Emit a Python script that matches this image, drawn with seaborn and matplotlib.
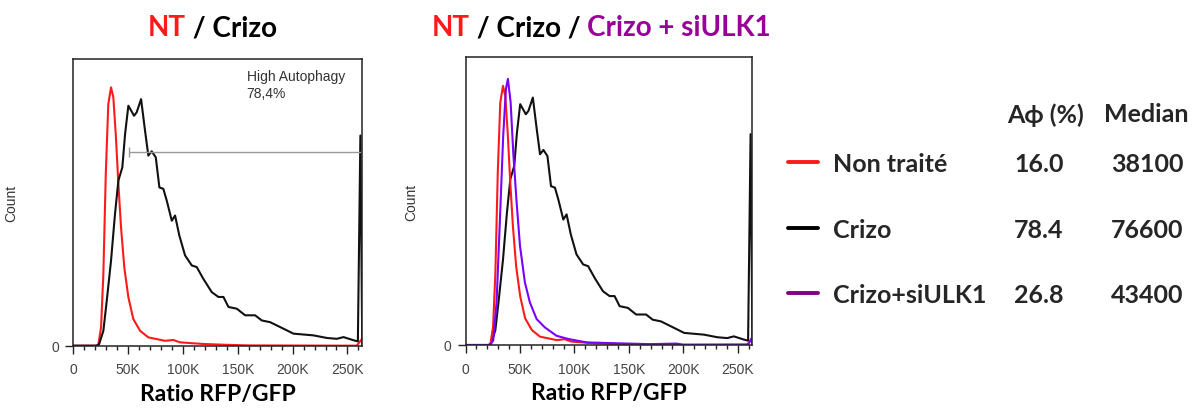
import matplotlib
matplotlib.use("Agg")
import matplotlib.pyplot as plt
import seaborn as sns
from matplotlib.lines import Line2D
from matplotlib.ticker import MultipleLocator

# Histogrammes (x = ratio RFP/GFP, y = % de la hauteur de l'axe)
nt_x = [0, 21000, 22800, 25300, 27400, 29600, 31900, 34400, 36500, 38700, 41100, 43500,
        46500, 50200, 54700, 60900, 68400, 76100, 83700, 91200, 97000, 103400, 118600,
        139900, 160000, 258500, 263300]
nt_y = [0, 0, 0.3, 6.4, 25, 59.9, 84.3, 90.1, 86.6, 73.8, 56.4, 41.3,
        27.3, 16.9, 9.3, 5.2, 2.9, 2.3, 1.7, 2.0, 1.2, 1.0, 0.6,
        0.3, 0.1, 0, 2.4]

crizo_x = [0, 21000, 23500, 27400, 30500, 34400, 38000, 41100, 44700, 47200, 50200, 55400,
           57800, 61800, 65400, 68400, 71500, 75200, 78500, 82100, 85200, 89800, 92800,
           96700, 101900, 108000, 112600, 118600, 126200, 132300, 136900, 141500, 149100,
           156700, 165800, 171900, 179500, 188600, 200800, 219000, 231200, 240300, 246400,
           255500, 259500, 261800, 263500]
crizo_y = [0, 0, 0.5, 5.2, 15.7, 29.7, 45.9, 57.6, 62.2, 73.8, 83.7, 80.2,
           81.4, 86, 75, 66.3, 67.8, 65.7, 55.2, 54.7, 50.6, 43.6, 45.4,
           38.4, 31.5, 28, 27.4, 23.3, 18.7, 17, 17, 13.5, 12.9,
           10.6, 10.6, 8.8, 8.2, 6.5, 4.2, 3.6, 2.7, 2.4, 3,
           1.9, 1.5, 73.3, 0]

siulk1_x = [0, 22000, 25400, 28500, 31600, 34600, 37100, 38900, 41400, 43800, 46900, 50000,
            54500, 59100, 65300, 72900, 83600, 94300, 111200, 138700, 169300, 193800,
            200000, 259600, 263300]
siulk1_y = [0, 0, 1.5, 14.8, 43.8, 72.8, 89, 92.5, 84.4, 67, 49.6, 34.5,
            21.8, 14.8, 9, 6.1, 3.2, 2.1, 0.9, 0.6, 0.3, 0.5,
            0.1, 0.2, 2.7]

# Porte "High Autophagy"
gate_start = 51100
gate_end = 262500
gate_level = 67.5

# Tableau à droite
conditions = ["Non traité", "Crizo", "Crizo+siULK1"]
aphi_pct = ["16.0", "78.4", "26.8"]
medians = ["38100", "76600", "43400"]

x_ticks = [0, 50000, 100000, 150000, 200000, 250000]
x_ticklabels = ["0", "50K", "100K", "150K", "200K", "250K"]

RED = "#ff1a1a"
BLACK = "#111111"
VIOLET = "#7a00ff"
PURPLE_TXT = "#990099"
PURPLE_LEG = "#800080"

sns.set_theme(style="ticks")
plt.rcParams["font.family"] = ["Liberation Sans", "DejaVu Sans"]
BOLD = ["Lato", "DejaVu Sans"]
TABLE_FS = 18

fig = plt.figure(figsize=(11.98, 4.10), dpi=100)
ax1 = fig.add_axes([0.0612, 0.1544, 0.2410, 0.6993])
ax2 = fig.add_axes([0.3886, 0.1561, 0.2393, 0.7017])


def style_axis(ax, count_x):
    ax.set_xlim(0, 263300)
    ax.set_ylim(0, 100)
    ax.set_xticks(x_ticks)
    ax.set_xticklabels(x_ticklabels)
    ax.xaxis.set_minor_locator(MultipleLocator(10000))
    ax.set_yticks([0])
    ax.set_yticklabels(["0"])
    ax.tick_params(axis="both", which="major", direction="out", length=6, width=1,
                   color="#222222", labelsize=10, labelcolor="#444444", pad=6)
    ax.tick_params(axis="y", which="major", pad=4)
    ax.tick_params(axis="x", which="minor", direction="out", length=3, width=1, color="#222222")
    for s in ax.spines.values():
        s.set_visible(True)
        s.set_color("#222222")
        s.set_linewidth(1.1)
    ax.set_xlabel("Ratio RFP/GFP", family=BOLD, fontweight="bold", fontsize=16.5, color="black")
    ax.xaxis.set_label_coords(0.5, -0.13)
    ax.set_ylabel("Count", fontsize=10, color="#333333")
    ax.yaxis.set_label_coords(count_x, 0.5)


# Panneau gauche : NT / Crizo
sns.lineplot(x=nt_x, y=nt_y, ax=ax1, color=RED, lw=1.5, sort=False, estimator=None)
sns.lineplot(x=crizo_x, y=crizo_y, ax=ax1, color=BLACK, lw=1.5, sort=False, estimator=None)
ax1.hlines(gate_level, gate_start, gate_end, color="#999999", lw=1.0)
ax1.vlines(gate_start, gate_level - 1.8, gate_level + 1.8, color="#999999", lw=1.0)
ax1.text(0.600, 0.965, "High Autophagy\n78,4%", transform=ax1.transAxes, fontsize=10,
         color="#333333", va="top", ha="left", linespacing=1.25)
style_axis(ax1, -0.19)

# Panneau droit : NT / Crizo / Crizo + siULK1
sns.lineplot(x=crizo_x, y=crizo_y, ax=ax2, color=BLACK, lw=1.5, sort=False, estimator=None)
sns.lineplot(x=nt_x, y=nt_y, ax=ax2, color=RED, lw=1.5, sort=False, estimator=None)
sns.lineplot(x=siulk1_x, y=siulk1_y, ax=ax2, color=VIOLET, lw=1.5, sort=False, estimator=None)
style_axis(ax2, -0.165)


# Titres multicolores
def colored_title(x, y, pieces):
    prev = ax1.annotate(pieces[0][0], xy=(x, y), xycoords="figure fraction", color=pieces[0][1],
                        fontsize=20, fontweight="bold", family=BOLD, va="baseline",
                        annotation_clip=False)
    for txt, col in pieces[1:]:
        prev = ax1.annotate(txt, xy=(1, 0), xycoords=prev, color=col, fontsize=20,
                            fontweight="bold", family=BOLD, va="bottom", annotation_clip=False)


colored_title(148 / 1198, 1 - 36 / 410, [("NT", RED), (" / Crizo", "black")])
colored_title(432 / 1198, 1 - 36 / 410,
              [("NT", RED), (" / Crizo / ", "black"), ("Crizo + siULK1", PURPLE_TXT)])

# Légende + tableau
handles = [Line2D([], [], color=c, lw=2.8) for c in [RED, "black", PURPLE_LEG]]
leg = fig.legend(handles, conditions, loc="upper left", bbox_to_anchor=(788 / 1198, 1 - 153 / 410),
                 frameon=False, prop={"family": BOLD, "weight": "bold", "size": TABLE_FS},
                 handlelength=1.2, handletextpad=0.6, labelspacing=1.7, borderpad=0,
                 borderaxespad=0)

fig.text(1046 / 1198, 1 - 115 / 410, "A\u03d5 (%)", ha="center", va="center", family=BOLD,
         fontweight="bold", fontsize=TABLE_FS)
fig.text(1146 / 1198, 1 - 115 / 410, "Median", ha="center", va="center", family=BOLD,
         fontweight="bold", fontsize=TABLE_FS)

fig.canvas.draw()
inv = fig.transFigure.inverted()
for t, a, m in zip(leg.get_texts(), aphi_pct, medians):
    bb = t.get_window_extent()
    yc = inv.transform((0, (bb.y0 + bb.y1) / 2))[1]
    fig.text(1039 / 1198, yc, a, ha="center", va="center", family=BOLD, fontweight="bold",
             fontsize=TABLE_FS)
    fig.text(1147 / 1198, yc, m, ha="center", va="center", family=BOLD, fontweight="bold",
             fontsize=TABLE_FS)

fig.savefig("out.png", dpi=100)
